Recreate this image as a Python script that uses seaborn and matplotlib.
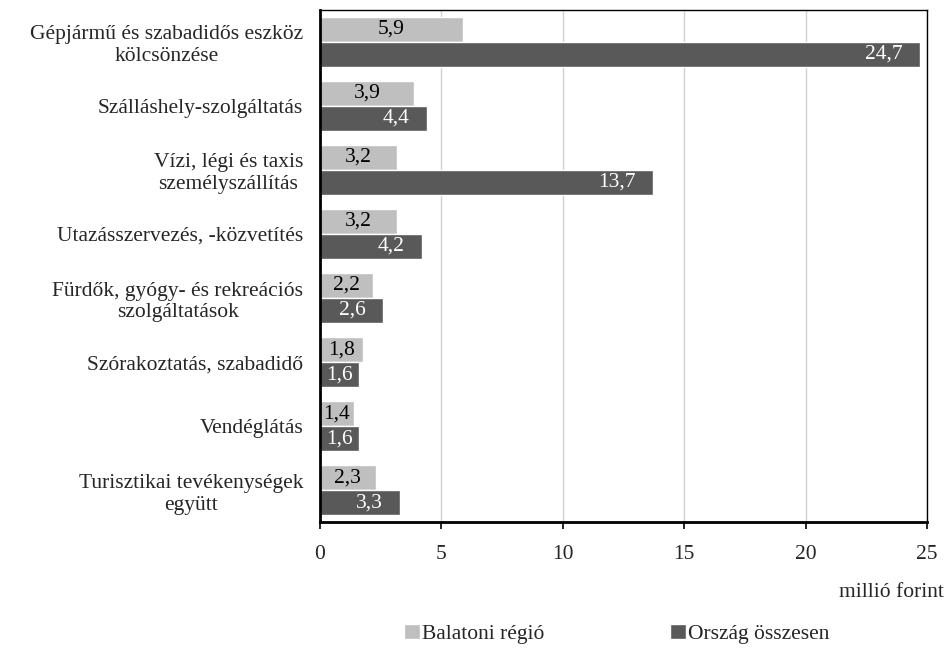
import numpy as np
import seaborn as sns
import matplotlib.pyplot as plt
import pandas as pd

categories = [
    'Gépjármű és szabadidős eszköz\nkölcsönzése',
    'Szálláshely-szolgáltatás',
    'Vízi, légi és taxis\nszemélyszállítás',
    'Utazásszervezés, -közvetítés',
    'Fürdők, gyógy- és rekreációs\nszolgáltatások',
    'Szórakoztatás, szabadidő',
    'Vendéglátás',
    'Turisztikai tevékenységek\negyütt',
]
balaton = [5.9, 3.9, 3.2, 3.2, 2.2, 1.8, 1.4, 2.3]
orszag = [24.7, 4.4, 13.7, 4.2, 2.6, 1.6, 1.6, 3.3]
series = ['Balatoni régió', 'Ország összesen']
colors = ['#bfbfbf', '#595959']

df = pd.DataFrame({
    'kat': categories * 2,
    'sor': [series[0]] * len(categories) + [series[1]] * len(categories),
    'ertek': balaton + orszag,
})

sns.set_theme(style='white')
plt.rcParams['font.family'] = ['Liberation Serif', 'DejaVu Serif']
FS = 15.5

fig = plt.figure(figsize=(9.46, 6.48), dpi=100)
ax = fig.add_axes([0.338, 0.194, 0.642, 0.791])

sns.barplot(data=df, y='kat', x='ertek', hue='sor', orient='h',
            palette=colors, width=0.78, saturation=1, ax=ax)

fmt = lambda v: f'{v:.1f}'.replace('.', ',')

# light series: labels in the middle of the bar
ax.bar_label(ax.containers[0], labels=[fmt(v) for v in balaton],
             label_type='center', fontsize=FS, color='black')

# dark series: white labels near the end of the bar
for bar, v in zip(ax.containers[1], orszag):
    yc = bar.get_y() + bar.get_height() / 2
    if v < 2:
        ax.text(v / 2, yc, fmt(v), ha='center', va='center',
                color='white', fontsize=FS)
    else:
        ax.text(v - 0.7, yc, fmt(v), ha='right',
                va='center', color='white', fontsize=FS)

ax.set_xlim(0, 25)
ax.set_xticks(np.arange(0, 26, 5))
ax.grid(axis='x', color='#d0d0d0', linewidth=1)
ax.set_axisbelow(True)
for side, s in ax.spines.items():
    s.set_color('black')
    s.set_linewidth(2 if side in ('left', 'bottom') else 1)

ax.tick_params(axis='x', direction='out', length=5, width=1.2,
               color='black', labelsize=FS, pad=11, bottom=True)
ax.tick_params(axis='y', length=0, labelsize=FS, pad=12)
for t in ax.get_yticklabels():
    t.set_multialignment('center')

ax.set_ylabel('')
ax.set_xlabel('millió forint', fontsize=FS, ha='right', va='center')
ax.xaxis.set_label_coords(1.027, -0.137)

handles, labels = ax.get_legend_handles_labels()
ax.legend_.remove()
fig.legend(handles, labels, loc='center', bbox_to_anchor=(0.652, 0.022),
           ncol=2, frameon=False, fontsize=FS, handlelength=0.75,
           handleheight=0.75, handletextpad=0.1, columnspacing=5.8)

fig.savefig('out.png', dpi=100)
